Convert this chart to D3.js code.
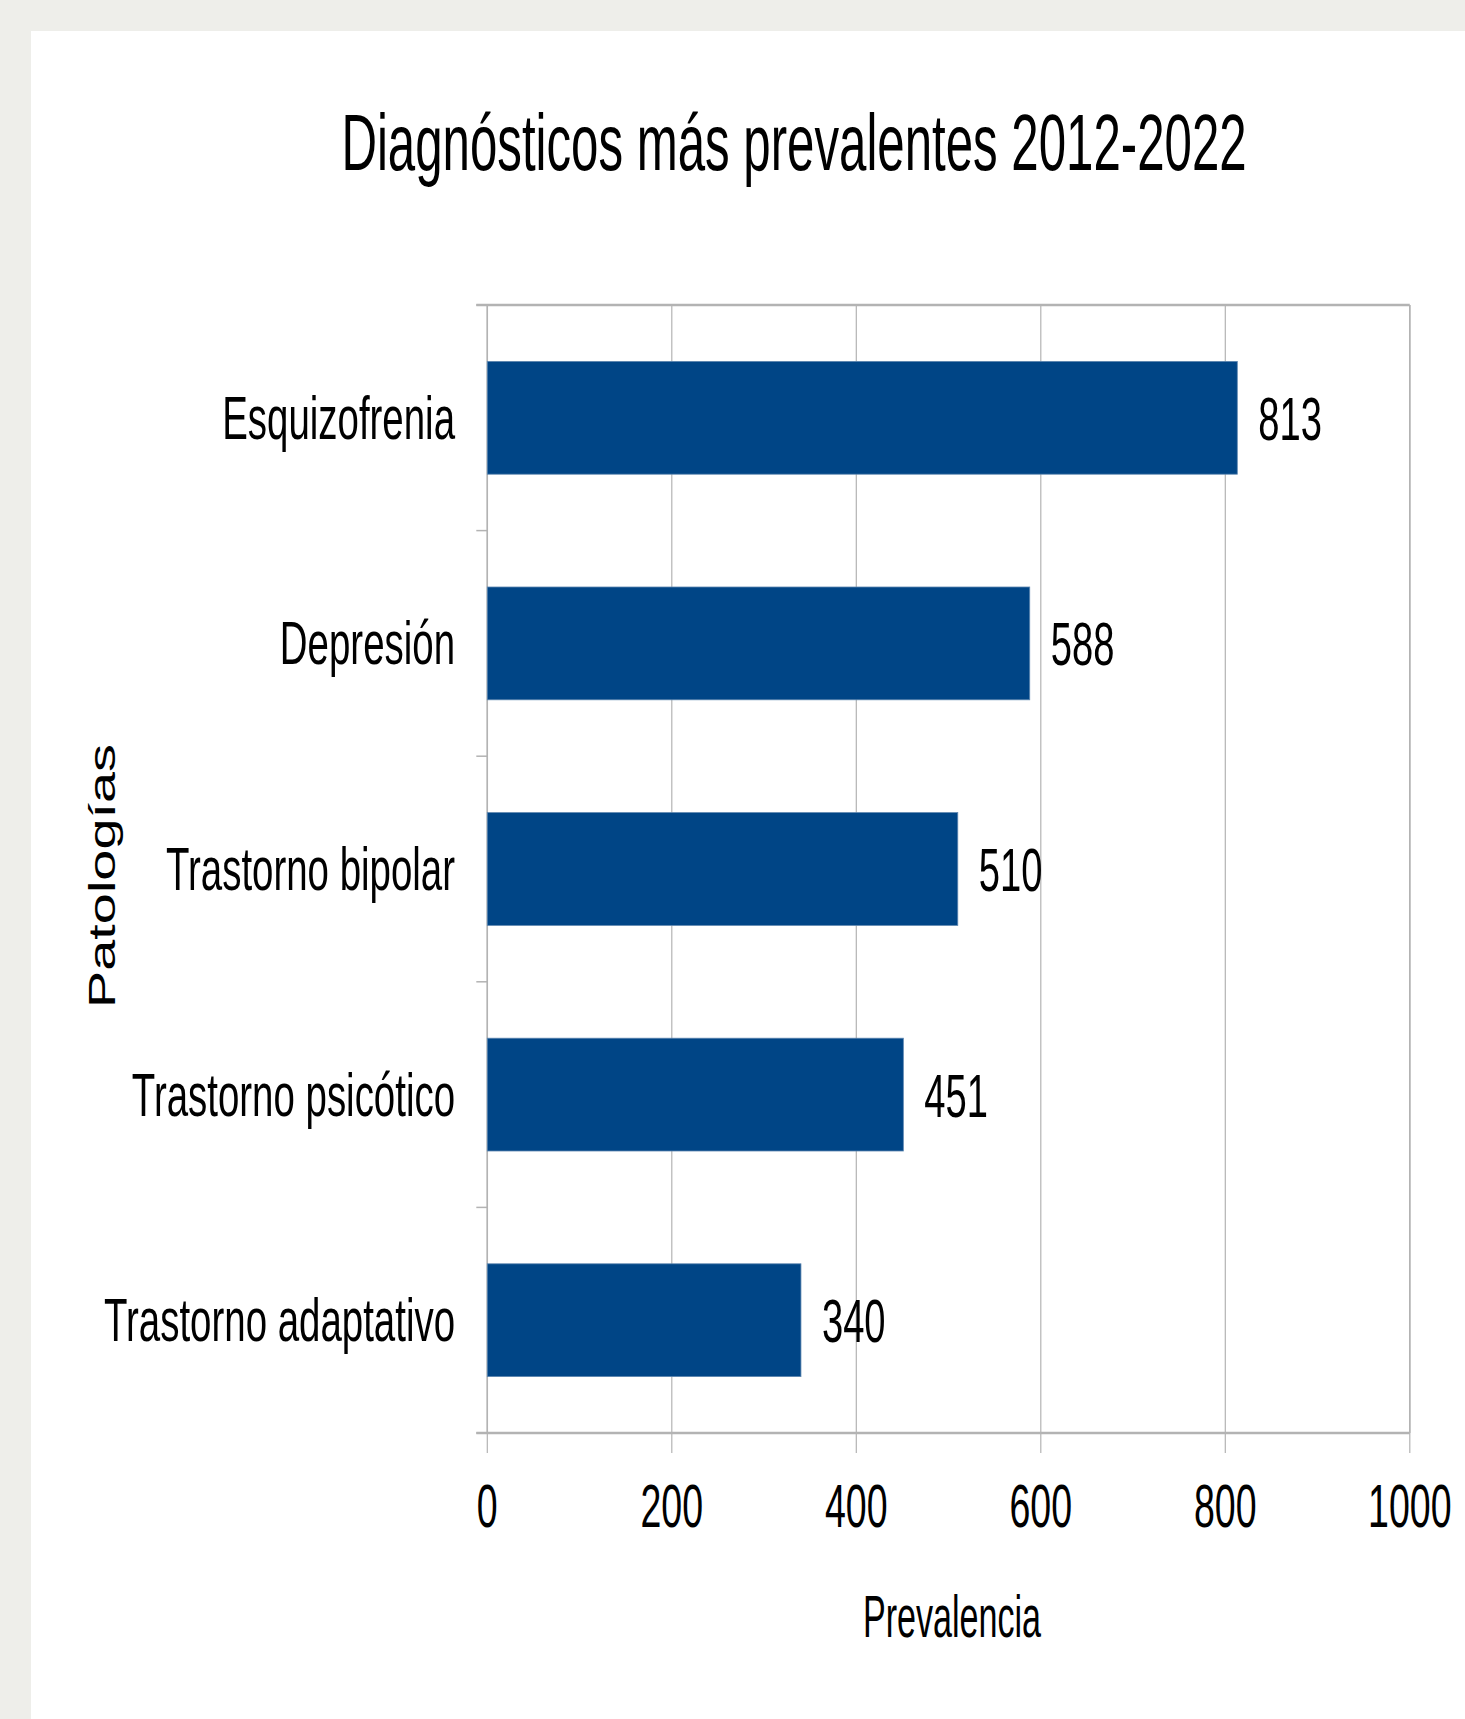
<!DOCTYPE html>
<html>
<head>
<meta charset="utf-8">
<script src="https://cdn.jsdelivr.net/npm/d3@7"></script>
<style>
  html, body { margin: 0; padding: 0; background: #eeeeea; }
  svg { display: block; }
  text { font-family: "Liberation Sans", Arial, sans-serif; fill: #000; }
</style>
</head>
<body>
<svg id="chart" width="1465" height="1719"></svg>
<script>
const categories = ["Esquizofrenia", "Depresión", "Trastorno bipolar", "Trastorno psicótico", "Trastorno adaptativo"];
const values = [813, 588, 510, 451, 340];
const xTicks = [0, 200, 400, 600, 800, 1000];
const titleText = "Diagnósticos más prevalentes 2012-2022";
const xTitle = "Prevalencia";
const yTitle = "Patologías";

const W = 1465, H = 1719;
const svg = d3.select("#chart");

// page panel
svg.append("rect").attr("x", 0).attr("y", 0).attr("width", W).attr("height", H).attr("fill", "#eeeeea");
svg.append("rect").attr("x", 31).attr("y", 31).attr("width", W - 31).attr("height", H - 31).attr("fill", "#ffffff");

const plot = { left: 487.3, right: 1409.8, top: 305, bottom: 1433 };

const x = d3.scaleLinear().domain([0, 1000]).range([plot.left, plot.right]);
const y = d3.scaleBand().domain(categories).range([plot.top, plot.bottom]).paddingInner(0.5).paddingOuter(0.25);

function squeezedText(parent, tx, ty, str, size, anchor, sx) {
  return parent.append("text")
    .attr("transform", `translate(${tx},${ty}) scale(${sx},1)`)
    .attr("font-size", size)
    .attr("text-anchor", anchor)
    .text(str);
}

const grid = svg.append("g");
// vertical gridlines (extend below axis as ticks)
grid.selectAll("line.vg").data(xTicks).join("line")
  .attr("x1", d => x(d)).attr("x2", d => x(d))
  .attr("y1", plot.top).attr("y2", plot.bottom + 20)
  .attr("stroke", "#b3b3b3").attr("stroke-width", 1.2);

// category boundary ticks on the left
const bounds = categories.map(c => y(c) - y.step() * y.paddingInner() / 2);
bounds.push(plot.bottom);
grid.selectAll("line.yt").data(bounds).join("line")
  .attr("x1", plot.left - 11).attr("x2", plot.left)
  .attr("y1", d => d).attr("y2", d => d)
  .attr("stroke", "#b3b3b3").attr("stroke-width", 1.5);

// frame
grid.append("line").attr("x1", plot.left - 11).attr("x2", plot.right).attr("y1", plot.top).attr("y2", plot.top)
  .attr("stroke", "#b3b3b3").attr("stroke-width", 2.5);
grid.append("line").attr("x1", plot.left - 11).attr("x2", plot.right).attr("y1", plot.bottom).attr("y2", plot.bottom)
  .attr("stroke", "#b3b3b3").attr("stroke-width", 2.5);
grid.append("line").attr("x1", plot.left).attr("x2", plot.left).attr("y1", plot.top).attr("y2", plot.bottom)
  .attr("stroke", "#b3b3b3").attr("stroke-width", 1.5);
grid.append("line").attr("x1", plot.right).attr("x2", plot.right).attr("y1", plot.top).attr("y2", plot.bottom)
  .attr("stroke", "#b3b3b3").attr("stroke-width", 1.5);

// bars
svg.append("g").selectAll("rect").data(categories).join("rect")
  .attr("x", x(0))
  .attr("y", d => y(d))
  .attr("width", (d, i) => x(values[i]) - x(0))
  .attr("height", y.bandwidth())
  .attr("fill", "#004586")
  .attr("stroke", "#5d86b0").attr("stroke-width", 0.8);

// value labels
const vl = svg.append("g");
categories.forEach((c, i) => {
  squeezedText(vl, x(values[i]) + 21, y(c) + y.bandwidth() / 2 + 22, String(values[i]), 62, "start", 0.615);
});

// category labels
const cl = svg.append("g");
categories.forEach(c => {
  squeezedText(cl, 455, y(c) + y.bandwidth() / 2 + 21, c, 61, "end", 0.63);
});

// x tick labels
const tl = svg.append("g");
xTicks.forEach(t => {
  squeezedText(tl, x(t), 1527, String(t), 61, "middle", 0.615);
});

// axis titles
squeezedText(svg, 952, 1637, xTitle, 59, "middle", 0.578);
svg.append("text")
  .attr("transform", `translate(115,876) rotate(-90) scale(1.51,1)`)
  .attr("font-size", 37)
  .attr("text-anchor", "middle")
  .text(yTitle);

// chart title
squeezedText(svg, 794, 170, titleText, 80, "middle", 0.615);
</script>
</body>
</html>
